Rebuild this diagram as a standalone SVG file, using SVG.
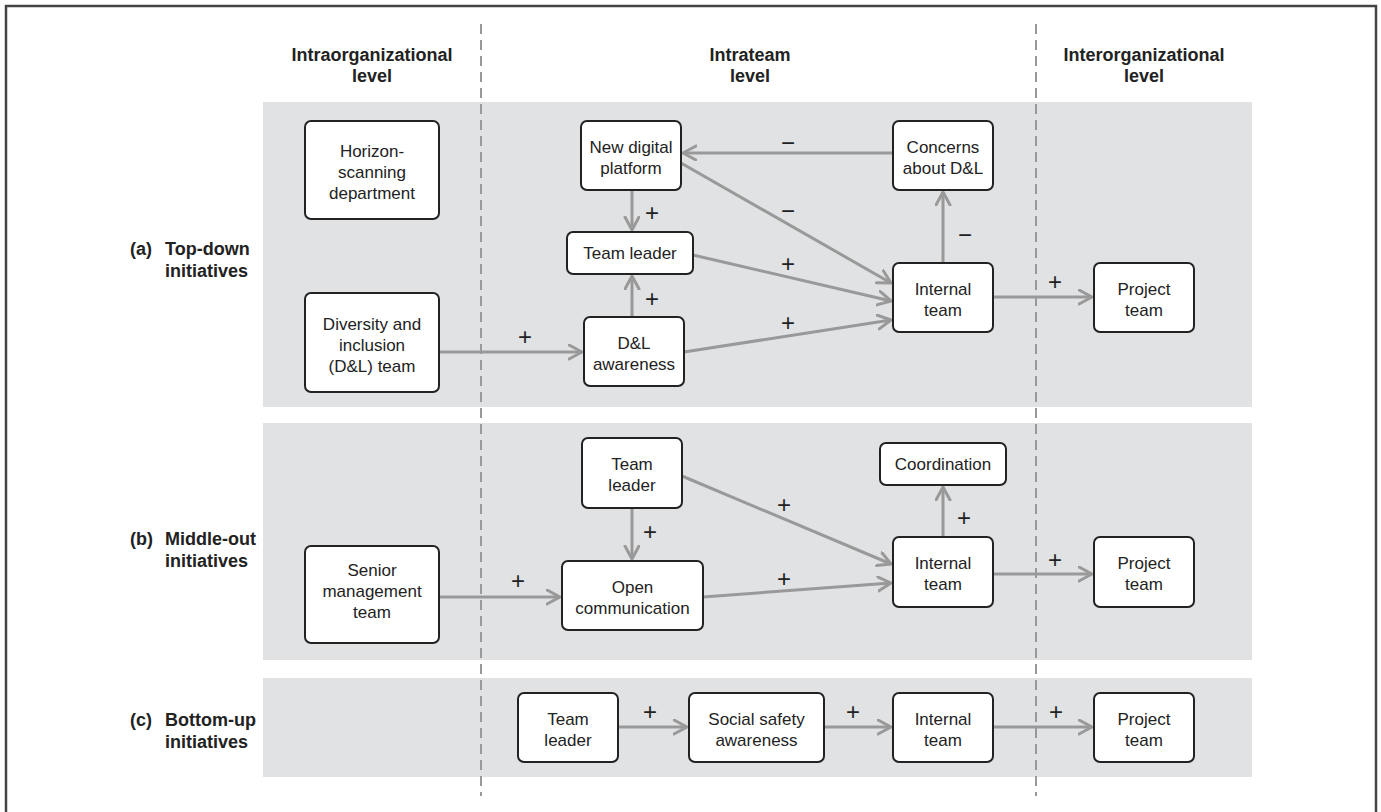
<svg xmlns="http://www.w3.org/2000/svg" width="1381" height="812" viewBox="0 0 1381 812">
<defs>
<marker id="arr" markerUnits="userSpaceOnUse" markerWidth="20" markerHeight="20" refX="14" refY="8" orient="auto">
<path d="M1,1 L14,8 L1,15" fill="none" stroke="#999" stroke-width="3" stroke-linecap="round" stroke-linejoin="round"/>
</marker>
<style>
.panel{fill:#e1e2e4}
.node rect{fill:#fff;stroke:#222;stroke-width:2}
.node text{font-family:"Liberation Sans",Arial,sans-serif;font-size:17px;fill:#222;text-anchor:middle}
.hdr{font-family:"Liberation Sans",Arial,sans-serif;font-size:18px;font-weight:bold;fill:#222;text-anchor:middle}
.row{font-family:"Liberation Sans",Arial,sans-serif;font-size:18px;font-weight:bold;fill:#222}
.dash{stroke:#999;stroke-width:2;stroke-dasharray:10 6;fill:none}
.conn path{fill:none;stroke:#999;stroke-width:3;marker-end:url(#arr)}
.sign{font-family:"Liberation Sans",Arial,sans-serif;font-size:24px;fill:#222;text-anchor:middle}
</style>
</defs>
<rect x="0" y="0" width="1381" height="812" fill="#fff"/>
<rect x="6" y="6" width="1370" height="820" fill="none" stroke="#444" stroke-width="2.5"/>

<g id="panels">
<rect class="panel" x="263" y="102" width="989" height="305"/>
<rect class="panel" x="263" y="423" width="989" height="237"/>
<rect class="panel" x="263" y="678" width="989" height="99"/>
</g>

<g id="dividers">
<line class="dash" x1="481" y1="24" x2="481" y2="796"/>
<line class="dash" x1="1036" y1="24" x2="1036" y2="796"/>
</g>

<g id="headers">
<text class="hdr" x="372" y="61">Intraorganizational</text>
<text class="hdr" x="372" y="82">level</text>
<text class="hdr" x="750" y="61">Intrateam</text>
<text class="hdr" x="750" y="82">level</text>
<text class="hdr" x="1144" y="61">Interorganizational</text>
<text class="hdr" x="1144" y="82">level</text>
</g>

<g id="rowlabels">
<text class="row" x="130" y="255">(a)</text>
<text class="row" x="165" y="255">Top-down</text>
<text class="row" x="165" y="277">initiatives</text>
<text class="row" x="130" y="545">(b)</text>
<text class="row" x="165" y="545">Middle-out</text>
<text class="row" x="165" y="567">initiatives</text>
<text class="row" x="130" y="726">(c)</text>
<text class="row" x="165" y="726">Bottom-up</text>
<text class="row" x="165" y="748">initiatives</text>
</g>

<g id="connectors" class="conn">
<path d="M439,352 H582"/>
<path d="M632,190 V230"/>
<path d="M632,317 V276"/>
<path d="M893,153 H683"/>
<path d="M681,163 L891,283"/>
<path d="M693,255 L891,301"/>
<path d="M684,352 L891,320"/>
<path d="M943,263 V192"/>
<path d="M993,297 H1092"/>
<path d="M439,597 H560"/>
<path d="M632,508 V559"/>
<path d="M682,476 L891,564"/>
<path d="M703,597 L891,583"/>
<path d="M943,537 V487"/>
<path d="M993,574 H1092"/>
<path d="M618,727 H687"/>
<path d="M824,727 H891"/>
<path d="M993,727 H1092"/>
</g>

<g id="signs">
<text class="sign" x="525" y="345">+</text>
<text class="sign" x="652" y="221">+</text>
<text class="sign" x="652" y="307">+</text>
<text class="sign" x="788" y="151">−</text>
<text class="sign" x="788" y="219">−</text>
<text class="sign" x="788" y="272">+</text>
<text class="sign" x="788" y="331">+</text>
<text class="sign" x="965" y="243">−</text>
<text class="sign" x="1055" y="290">+</text>
<text class="sign" x="518" y="589">+</text>
<text class="sign" x="650" y="540">+</text>
<text class="sign" x="784" y="513">+</text>
<text class="sign" x="784" y="587">+</text>
<text class="sign" x="964" y="526">+</text>
<text class="sign" x="1055" y="568">+</text>
<text class="sign" x="650" y="720">+</text>
<text class="sign" x="853" y="720">+</text>
<text class="sign" x="1056" y="720">+</text>
</g>

<g id="horizon" class="node"><rect x="305" y="121" width="134" height="98" rx="6"/>
<text x="372" y="157">Horizon-</text><text x="372" y="178">scanning</text><text x="372" y="199">department</text></g>
<g id="dl_team" class="node"><rect x="305" y="293" width="134" height="99" rx="6"/>
<text x="372" y="330">Diversity and</text><text x="372" y="351">inclusion</text><text x="372" y="372">(D&amp;L) team</text></g>
<g id="ndp" class="node"><rect x="581" y="121" width="100" height="69" rx="6"/>
<text x="631" y="153">New digital</text><text x="631" y="174">platform</text></g>
<g id="concerns" class="node"><rect x="893" y="121" width="100" height="69" rx="6"/>
<text x="943" y="153">Concerns</text><text x="943" y="174">about D&amp;L</text></g>
<g id="tl_a" class="node"><rect x="567" y="232" width="126" height="42" rx="6"/>
<text x="630" y="259">Team leader</text></g>
<g id="dla" class="node"><rect x="584" y="317" width="100" height="69" rx="6"/>
<text x="634" y="349">D&amp;L</text><text x="634" y="370">awareness</text></g>
<g id="int_a" class="node"><rect x="893" y="263" width="100" height="69" rx="6"/>
<text x="943" y="295">Internal</text><text x="943" y="316">team</text></g>
<g id="proj_a" class="node"><rect x="1094" y="263" width="100" height="69" rx="6"/>
<text x="1144" y="295">Project</text><text x="1144" y="316">team</text></g>

<g id="senior" class="node"><rect x="305" y="546" width="134" height="97" rx="6"/>
<text x="372" y="576">Senior</text><text x="372" y="597">management</text><text x="372" y="618">team</text></g>
<g id="tl_b" class="node"><rect x="582" y="438" width="100" height="70" rx="6"/>
<text x="632" y="470">Team</text><text x="632" y="491">leader</text></g>
<g id="open" class="node"><rect x="562" y="561" width="141" height="69" rx="6"/>
<text x="632.5" y="593">Open</text><text x="632.5" y="614">communication</text></g>
<g id="coord" class="node"><rect x="880" y="443" width="126" height="42" rx="6"/>
<text x="943" y="470">Coordination</text></g>
<g id="int_b" class="node"><rect x="893" y="537" width="100" height="70" rx="6"/>
<text x="943" y="569">Internal</text><text x="943" y="590">team</text></g>
<g id="proj_b" class="node"><rect x="1094" y="537" width="100" height="70" rx="6"/>
<text x="1144" y="569">Project</text><text x="1144" y="590">team</text></g>

<g id="tl_c" class="node"><rect x="518" y="693" width="100" height="69" rx="6"/>
<text x="568" y="725">Team</text><text x="568" y="746">leader</text></g>
<g id="social" class="node"><rect x="689" y="693" width="135" height="69" rx="6"/>
<text x="756.5" y="725">Social safety</text><text x="756.5" y="746">awareness</text></g>
<g id="int_c" class="node"><rect x="893" y="693" width="100" height="69" rx="6"/>
<text x="943" y="725">Internal</text><text x="943" y="746">team</text></g>
<g id="proj_c" class="node"><rect x="1094" y="693" width="100" height="69" rx="6"/>
<text x="1144" y="725">Project</text><text x="1144" y="746">team</text></g>
</svg>
